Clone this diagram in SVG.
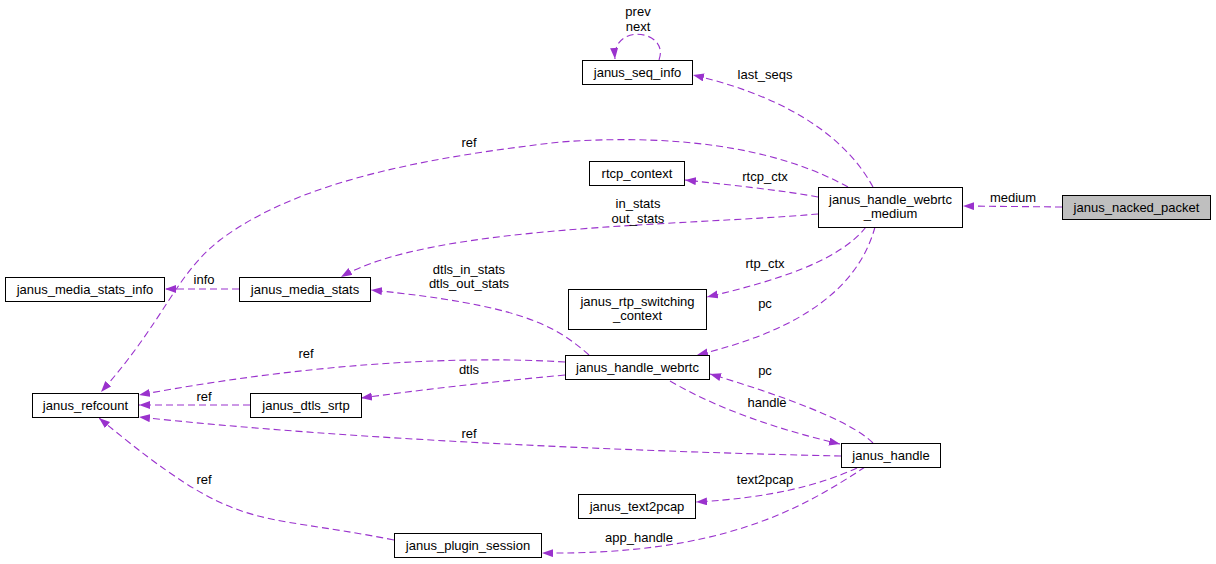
<svg xmlns="http://www.w3.org/2000/svg" width="1216" height="564" viewBox="0 0 1216 564">
<style>
.box{fill:#ffffff;stroke:#000000;stroke-width:1}
.focus{fill:#bfbfbf}
.t{font-family:"Liberation Sans",Arial,Helvetica,sans-serif;font-size:13px;fill:#000000;text-anchor:middle}
.e{fill:none;stroke:#9a32cd;stroke-width:1.1;stroke-dasharray:7,4}
</style>
<defs>
<marker id="ah" markerUnits="userSpaceOnUse" markerWidth="12" markerHeight="9" refX="11" refY="4" orient="auto">
<path d="M0,0 L11,4 L0,8 Z" fill="#9a32cd" stroke="none"/>
</marker>
</defs>
<rect width="1216" height="564" fill="#ffffff"/>
<g id="connectors">
<path class="e" marker-end="url(#ah)" d="M1062,207 L963,206"/>
<text class="t" x="1013" y="202">medium</text>
<path class="e" marker-end="url(#ah)" d="M873,187 C850,145 800,100 693,75"/>
<text class="t" x="765" y="79">last_seqs</text>
<path class="e" marker-end="url(#ah)" d="M659,60 C670,30 612,22 615,59"/>
<text class="t" x="638" y="16">prev</text>
<text class="t" x="638" y="31">next</text>
<path class="e" marker-end="url(#ah)" d="M848,187 C790,155 700,132 560,142 C430,157 300,180 220,240 C175,275 165,320 101,392"/>
<text class="t" x="469" y="147">ref</text>
<path class="e" marker-end="url(#ah)" d="M818,197 C780,190 730,185 685,180"/>
<text class="t" x="765" y="181">rtcp_ctx</text>
<path class="e" marker-end="url(#ah)" d="M818,214 C680,226 430,225 341,277"/>
<text class="t" x="638" y="208">in_stats</text>
<text class="t" x="638" y="223">out_stats</text>
<path class="e" marker-end="url(#ah)" d="M866,227 C840,260 780,280 707,297"/>
<text class="t" x="765" y="268">rtp_ctx</text>
<path class="e" marker-end="url(#ah)" d="M875,227 C855,300 780,335 697,355"/>
<text class="t" x="765" y="308">pc</text>
<path class="e" marker-end="url(#ah)" d="M589,355 C555,325 520,305 371,290"/>
<text class="t" x="469" y="274">dtls_in_stats</text>
<text class="t" x="469" y="288">dtls_out_stats</text>
<path class="e" marker-end="url(#ah)" d="M239,289 L165,289"/>
<text class="t" x="204" y="284">info</text>
<path class="e" marker-end="url(#ah)" d="M565,362 C450,355 300,365 139,395"/>
<text class="t" x="306" y="358">ref</text>
<path class="e" marker-end="url(#ah)" d="M565,375 C480,383 420,390 361,398"/>
<text class="t" x="469" y="374">dtls</text>
<path class="e" marker-end="url(#ah)" d="M250,405 L139,405"/>
<text class="t" x="204" y="401">ref</text>
<path class="e" marker-end="url(#ah)" d="M841,456 C650,452 350,440 139,417"/>
<text class="t" x="469" y="438">ref</text>
<path class="e" marker-end="url(#ah)" d="M670,381 C720,410 780,430 840,444"/>
<text class="t" x="767" y="407">handle</text>
<path class="e" marker-end="url(#ah)" d="M873,443 C850,420 780,395 710,374"/>
<text class="t" x="765" y="375">pc</text>
<path class="e" marker-end="url(#ah)" d="M857,468 C820,485 770,498 696,502"/>
<text class="t" x="765" y="484">text2pcap</text>
<path class="e" marker-end="url(#ah)" d="M865,467 C800,510 720,555 542,553"/>
<text class="t" x="639" y="542">app_handle</text>
<path class="e" marker-end="url(#ah)" d="M394,540 C248,511 240,535 99,418"/>
<text class="t" x="204" y="484">ref</text>
</g>
<g id="node-janus_nacked_packet">
<rect class="box focus" x="1062.5" y="195.5" width="148" height="24"/>
<text class="t" x="1136.5" y="212">janus_nacked_packet</text>
</g>
<g id="node-janus_handle_webrtc_medium">
<rect class="box" x="818.5" y="187.5" width="144" height="40"/>
<text class="t" x="890.5" y="204">janus_handle_webrtc</text>
<text class="t" x="890.5" y="218">_medium</text>
</g>
<g id="node-janus_seq_info">
<rect class="box" x="582.5" y="60.5" width="110" height="24"/>
<text class="t" x="637.5" y="77">janus_seq_info</text>
</g>
<g id="node-rtcp_context">
<rect class="box" x="589.5" y="161.5" width="95" height="24"/>
<text class="t" x="637" y="178">rtcp_context</text>
</g>
<g id="node-janus_media_stats_info">
<rect class="box" x="5.5" y="277.5" width="159" height="24"/>
<text class="t" x="85" y="294">janus_media_stats_info</text>
</g>
<g id="node-janus_media_stats">
<rect class="box" x="239.5" y="277.5" width="131" height="24"/>
<text class="t" x="305" y="294">janus_media_stats</text>
</g>
<g id="node-janus_rtp_switching_context">
<rect class="box" x="568.5" y="289.5" width="138" height="40"/>
<text class="t" x="637.5" y="306">janus_rtp_switching</text>
<text class="t" x="637.5" y="320">_context</text>
</g>
<g id="node-janus_handle_webrtc">
<rect class="box" x="565.5" y="355.5" width="144" height="24"/>
<text class="t" x="637.5" y="372">janus_handle_webrtc</text>
</g>
<g id="node-janus_refcount">
<rect class="box" x="32.5" y="393.5" width="106" height="24"/>
<text class="t" x="85.5" y="410">janus_refcount</text>
</g>
<g id="node-janus_dtls_srtp">
<rect class="box" x="250.5" y="393.5" width="111" height="24"/>
<text class="t" x="306" y="410">janus_dtls_srtp</text>
</g>
<g id="node-janus_handle">
<rect class="box" x="841.5" y="443.5" width="99" height="24"/>
<text class="t" x="891" y="460">janus_handle</text>
</g>
<g id="node-janus_text2pcap">
<rect class="box" x="578.5" y="494.5" width="117" height="24"/>
<text class="t" x="637" y="511">janus_text2pcap</text>
</g>
<g id="node-janus_plugin_session">
<rect class="box" x="394.5" y="533.5" width="147" height="24"/>
<text class="t" x="468" y="550">janus_plugin_session</text>
</g>
</svg>
